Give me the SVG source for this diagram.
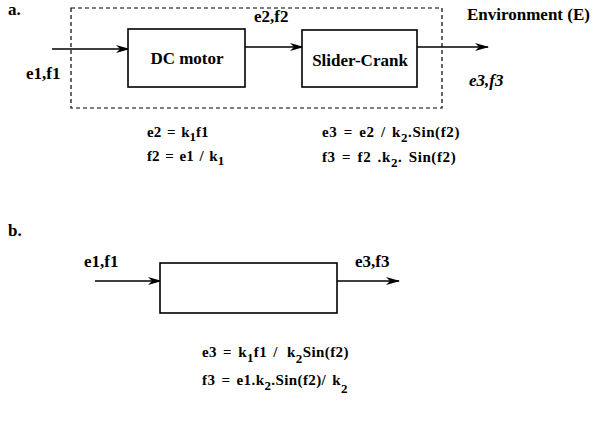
<svg xmlns="http://www.w3.org/2000/svg" width="594" height="440" viewBox="0 0 594 440" font-family="'Liberation Serif', 'Times New Roman', serif">
<defs>
<marker id="ah" markerWidth="14" markerHeight="8" refX="13" refY="4" orient="auto" markerUnits="userSpaceOnUse">
<path d="M0,0 L14,4 L0,8 L4,4 Z" fill="#000"/>
</marker>
<style>
text{font-family:'Liberation Serif','Times New Roman',serif;fill:#000;font-size:17px;font-weight:bold}
.i{font-style:italic}
.box{fill:#fff;stroke:#000;stroke-width:1.6}
.dash{fill:none;stroke:#000;stroke-width:1.2;stroke-dasharray:4,3}
.ln{stroke:#000;stroke-width:1.6;fill:none;marker-end:url(#ah)}
.sub{font-size:13px}
.eq{font-size:15px;word-spacing:2px}
</style>
</defs>
<rect width="594" height="440" fill="#fff"/>
<text x="8" y="15" font-size="12">a.</text>
<rect id="envbox" class="dash" x="71" y="8" width="371" height="100"/>
<text x="467" y="20" font-size="15">Environment (E)</text>
<g id="connectors">
<line class="ln" x1="52" y1="49" x2="129" y2="49"/>
<line class="ln" x1="245" y1="47" x2="303" y2="47"/>
<line class="ln" x1="417" y1="47" x2="488" y2="47"/>
<line class="ln" x1="95" y1="281" x2="161" y2="281"/>
<line class="ln" x1="337" y1="281" x2="399" y2="281"/>
</g>
<g id="dcmotor">
<rect class="box" x="128" y="29" width="117" height="58"/>
<text x="187" y="64" text-anchor="middle" font-size="17">DC motor</text>
</g>
<g id="slidercrank">
<rect class="box" x="302" y="30" width="115" height="57"/>
<text x="360" y="66" text-anchor="middle" font-size="17">Slider-Crank</text>
</g>
<text x="254" y="22" font-size="16">e2,f2</text>
<text x="26" y="79">e1,f1</text>
<text x="469" y="86" class="i">e3,f3</text>
<text x="147" y="137" class="eq">e2 = k<tspan class="sub" dy="4">1</tspan><tspan dy="-4">f1</tspan></text>
<text x="147" y="161" class="eq">f2  = e1 / k<tspan class="sub" dy="4">1</tspan></text>
<text x="322" y="137" class="eq" letter-spacing="0.6">e3 = e2 / k<tspan class="sub" dy="5">2</tspan><tspan dy="-5">.Sin(f2)</tspan></text>
<text x="322" y="162" class="eq" letter-spacing="0.6">f3 = f2 .k<tspan class="sub" dy="5">2</tspan><tspan dy="-5">. Sin(f2)</tspan></text>
<text x="8" y="236" font-size="12">b.</text>
<g id="block">
<rect class="box" x="160" y="263" width="177" height="50"/>
</g>
<text x="84" y="267">e1,f1</text>
<text x="355" y="267">e3,f3</text>
<text x="202" y="357" class="eq" letter-spacing="0.4">e3 = k<tspan class="sub" dy="5">1</tspan><tspan dy="-5">f1 / </tspan><tspan dx="3">k</tspan><tspan class="sub" dy="6">2</tspan><tspan dy="-6">Sin(f2)</tspan></text>
<text x="202" y="385" class="eq" letter-spacing="0.4">f3  = e1.k<tspan class="sub" dy="5">2</tspan><tspan dy="-5">.Sin(f2)/ k</tspan><tspan class="sub" dy="8">2</tspan></text>
</svg>
